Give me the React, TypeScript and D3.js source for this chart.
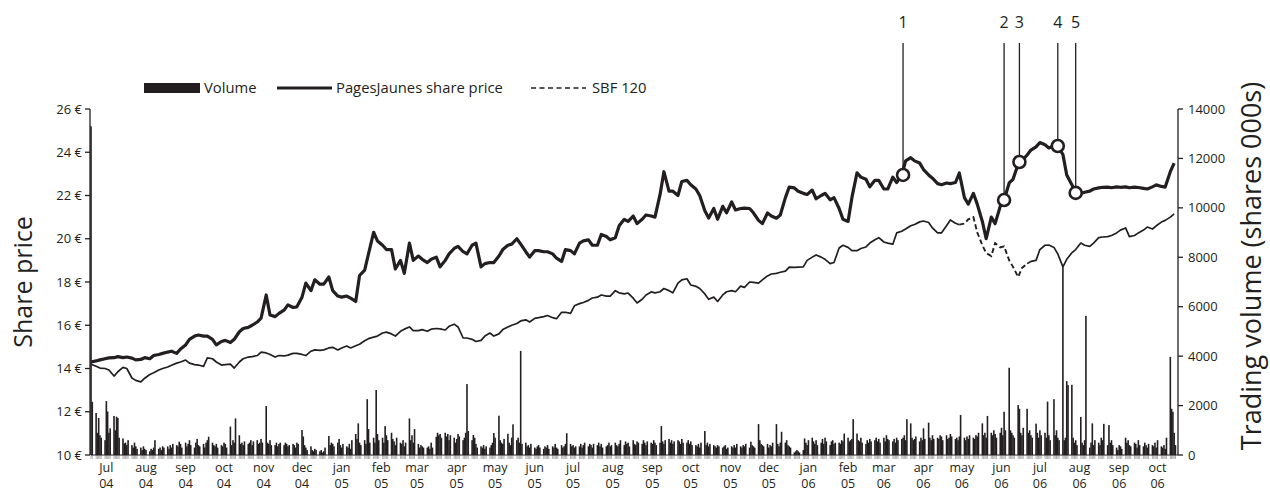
import React from 'react';
import * as d3 from 'd3';

// PagesJaunes close, sampled every Monday and Thursday from 1 Jul 2004 (euros)
const priceValues = [
  14.30, 14.35, 14.40, 14.45, 14.49, 14.50, 14.55, 14.50, 14.53, 14.48,
  14.40, 14.42, 14.50, 14.45, 14.60, 14.65, 14.70, 14.76, 14.80, 14.70,
  14.90, 15.09, 15.35, 15.50, 15.55, 15.50, 15.50, 15.35, 15.09, 15.25,
  15.30, 15.20, 15.35, 15.70, 15.85, 15.90, 16.00, 16.15, 16.33, 17.40,
  16.47, 16.40, 16.55, 16.70, 16.94, 16.82, 16.85, 17.30, 17.95, 17.60,
  18.10, 17.90, 17.90, 18.23, 17.60, 17.35, 17.30, 17.35, 17.25, 17.10,
  18.30, 18.55, 19.30, 20.30, 19.90, 19.70, 19.50, 19.50, 18.60, 19.00,
  18.40, 19.80, 19.00, 19.20, 19.05, 18.90, 19.05, 19.15, 18.70, 19.00,
  19.30, 19.55, 19.65, 19.40, 19.30, 19.70, 19.80, 18.70, 18.85, 18.90,
  18.90, 19.20, 19.50, 19.70, 19.75, 20.00, 19.75, 19.40, 19.15, 19.45,
  19.45, 19.40, 19.40, 19.30, 19.10, 18.95, 19.50, 19.45, 19.30, 19.80,
  19.90, 19.95, 19.70, 19.70, 20.20, 20.10, 19.95, 20.05, 20.60, 20.90,
  20.80, 21.05, 20.70, 20.90, 21.10, 21.05, 21.00, 22.05, 23.10, 22.20,
  22.20, 22.00, 22.65, 22.70, 22.50, 22.30, 22.00, 21.30, 20.96, 21.40,
  20.90, 21.50, 21.20, 21.70, 21.33, 21.40, 21.42, 21.40, 21.20, 20.85,
  20.70, 21.19, 21.05, 20.95, 21.10, 21.90, 22.39, 22.35, 22.20, 22.10,
  22.05, 22.25, 21.85, 22.00, 22.10, 21.80, 21.90, 21.40, 20.90, 20.80,
  21.90, 23.05, 22.85, 22.75, 22.40, 22.70, 22.70, 22.30, 22.30, 22.85,
  22.60, 22.95, 23.60, 23.75, 23.60, 23.50, 23.20, 22.95, 22.80, 22.55,
  22.50, 22.58, 22.55, 22.60, 23.04, 21.90, 21.60, 22.10, 21.60, 20.80,
  20.00, 21.00, 20.70, 21.50, 21.79, 22.58, 22.75, 23.45, 23.60, 23.87,
  24.10, 24.25, 24.45, 24.35, 24.20, 24.30, 24.25, 23.90, 22.95, 22.50,
  22.12, 22.10, 22.15, 22.20, 22.30, 22.35, 22.38, 22.39, 22.36, 22.40,
  22.38, 22.40, 22.36, 22.39, 22.37, 22.33, 22.30, 22.40, 22.49, 22.42,
  22.39, 23.10, 23.50,
];

// SBF 120, rebased to the share price scale, same sampling
const sbfValues = [
  14.20, 14.10, 14.02, 14.00, 13.93, 13.65, 13.85, 14.05, 14.00, 13.56,
  13.45, 13.38, 13.55, 13.72, 13.80, 13.93, 14.00, 14.07, 14.15, 14.25,
  14.30, 14.39, 14.25, 14.18, 14.16, 14.10, 14.49, 14.45, 14.30, 14.16,
  14.18, 14.20, 14.02, 14.30, 14.45, 14.53, 14.55, 14.60, 14.76, 14.72,
  14.65, 14.53, 14.60, 14.58, 14.62, 14.70, 14.70, 14.65, 14.60, 14.80,
  14.86, 14.84, 14.86, 14.95, 14.98, 14.86, 14.95, 15.04, 14.95, 15.05,
  15.12, 15.28, 15.38, 15.45, 15.50, 15.64, 15.68, 15.60, 15.50, 15.72,
  15.82, 15.92, 15.75, 15.75, 15.80, 15.72, 15.82, 15.85, 15.83, 15.78,
  15.95, 16.05, 15.92, 15.41, 15.41, 15.35, 15.25, 15.30, 15.50, 15.64,
  15.50, 15.60, 15.80, 15.92, 16.00, 16.08, 16.20, 16.25, 16.15, 16.32,
  16.35, 16.40, 16.45, 16.35, 16.30, 16.60, 16.60, 16.55, 16.90, 17.00,
  17.05, 17.15, 17.26, 17.30, 17.40, 17.35, 17.35, 17.60, 17.50, 17.45,
  17.49, 17.25, 17.03, 17.20, 17.40, 17.54, 17.50, 17.55, 17.70, 17.60,
  17.50, 17.95, 18.10, 18.15, 17.86, 17.80, 17.70, 17.45, 17.20, 17.30,
  17.10, 17.40, 17.55, 17.60, 17.55, 17.81, 17.75, 18.00, 17.98, 17.95,
  18.10, 18.28, 18.37, 18.40, 18.45, 18.50, 18.69, 18.68, 18.69, 18.70,
  19.00, 19.15, 19.25, 19.15, 19.05, 18.85, 18.90, 19.57, 19.70, 19.60,
  19.45, 19.45, 19.55, 19.62, 19.80, 19.95, 20.05, 19.85, 19.80, 19.75,
  20.27, 20.35, 20.45, 20.60, 20.66, 20.78, 20.82, 20.75, 20.50, 20.27,
  20.27, 20.60, 20.87, 20.72, 20.65, 20.70, 20.90, 21.00, 20.30, 19.70,
  19.34, 19.20, 19.80, 19.60, 19.65, 19.00, 18.70, 18.23, 18.65, 18.85,
  18.95, 19.00, 19.50, 19.70, 19.71, 19.60, 19.30, 18.70, 19.05, 19.35,
  19.50, 19.80, 19.70, 19.65, 19.80, 20.05, 20.08, 20.10, 20.15, 20.27,
  20.40, 20.50, 20.10, 20.15, 20.27, 20.40, 20.54, 20.45, 20.60, 20.77,
  20.85, 21.00, 21.15,
];

// daily trading volume, shares 000s, one value per weekday from 1 Jul 2004
const volumeValues = [
  13300, 2150,
  1700, 900, 1500, 800, 700, 600, 2180, 1760, 900, 1080,
  1580, 1000, 1550, 1500, 700, 670, 470, 500, 400, 600,
  400, 300, 500, 350, 250, 300, 200, 350, 250, 200,
  150, 250, 200, 300, 600, 250, 300, 200, 350, 300,
  350, 250, 400, 300, 450, 400, 350, 540, 450, 300,
  500, 350, 450, 600, 400, 300, 500, 650, 400, 350,
  450, 300, 500, 600, 740, 500, 400, 350, 450, 300,
  400, 350, 500, 450, 300, 1150, 400, 600, 500, 1480,
  800, 450, 500, 400, 550, 450, 500, 600, 400, 550,
  600, 450, 500, 650, 500, 1980, 500, 450, 600, 400,
  400, 500, 350, 450, 500, 400, 500, 450, 350, 400,
  450, 400, 300, 500, 450, 1010, 750, 400, 300, 200,
  350, 200, 150, 250, 200, 150, 200, 100, 150, 300,
  770, 400, 500, 450, 350, 500, 650, 400, 300, 450,
  350, 300, 450, 250, 600, 850, 650, 1280, 500, 400,
  600, 450, 2260, 1050, 500, 700, 500, 2630, 850, 600,
  700, 500, 1170, 800, 600, 900, 650, 550, 400, 700,
  500, 450, 600, 350, 500, 1480, 600, 800, 500, 1050,
  450, 300, 400, 350, 300, 300, 350, 250, 500, 300,
  740, 900, 800, 850, 700, 900, 750, 850, 600, 800,
  700, 500, 650, 850, 750, 600, 700, 900, 2870, 970,
  600, 810, 700, 450, 300, 350, 300, 400, 250, 350,
  300, 400, 500, 890, 700, 1590, 600, 500, 450, 650,
  860, 500, 400, 700, 1240, 600, 700, 500, 4210, 450,
  500, 350, 400, 300, 450, 300, 250, 350, 400, 300,
  250, 350, 300, 400, 250, 350, 300, 450, 300, 250,
  400, 300, 350, 450, 880, 450, 350, 400, 300, 350,
  350, 450, 300, 400, 500, 350, 450, 400, 300, 450,
  400, 500, 350, 450, 300, 350, 400, 500, 350, 400,
  500, 400, 350, 450, 600, 400, 550, 450, 500, 350,
  600, 450, 400, 550, 500, 450, 600, 500, 400, 550,
  500, 450, 600, 500, 400, 500, 1170, 550, 450, 600,
  650, 500, 600, 450, 550, 600, 550, 450, 650, 500,
  500, 600, 450, 550, 400, 400, 350, 450, 300, 500,
  970, 400, 500, 350, 450, 400, 350, 300, 400, 350,
  300, 350, 400, 250, 300, 350, 300, 400, 300, 450,
  350, 300, 400, 350, 450, 300, 540, 400, 350, 300,
  1250, 600, 450, 400, 350, 450, 300, 400, 350, 500,
  1250, 450, 350, 500, 940, 500, 600, 400, 350, 300,
  100, 150, 200, 150, 100, 200, 670, 500, 400, 600,
  700, 550, 450, 600, 400, 500, 650, 450, 700, 550,
  400, 550, 600, 450, 500, 500, 450, 600, 550, 870,
  700, 550, 600, 650, 1450, 870, 600, 550, 700, 500,
  450, 600, 500, 650, 550, 600, 700, 550, 650, 500,
  700, 550, 800, 650, 600, 550, 650, 500, 700, 600,
  650, 700, 800, 600, 1450, 1280, 700, 600, 650, 750,
  550, 700, 600, 1080, 650, 1310, 700, 600, 800, 650,
  700, 650, 800, 750, 600, 800, 650, 700, 850, 750,
  650, 700, 600, 750, 1620, 700, 600, 750, 650, 800,
  700, 650, 800, 750, 900, 1280, 800, 900, 700, 1580,
  900, 800, 1000, 850, 700, 900, 1100, 800, 1750, 1000,
  3530, 1000, 900, 800, 700, 2020, 1870, 900, 800, 1100,
  1870, 900, 1000, 800, 700, 1270, 900, 700, 1000, 800,
  900, 700, 2160, 800, 600, 2260, 800, 1000, 700, 600,
  7600, 600, 700, 2990, 2830, 2840, 700, 500, 600, 400,
  1540, 500, 400, 600, 5630, 300, 500, 1280, 400, 600,
  500, 400, 700, 600, 1260, 400, 1210, 500, 600, 400,
  300, 200, 400, 350, 250, 700, 500, 600, 400, 350,
  500, 450, 300, 600, 400, 350, 500, 400, 300, 450,
  400, 350, 500, 300, 600, 350, 300, 400, 250, 700,
  3970, 1870, 1750, 900, 400,
];

const monthNames = ['Jul', 'aug', 'sep', 'oct', 'nov', 'dec', 'jan', 'feb', 'mar', 'apr', 'may', 'jun',
  'jul', 'aug', 'sep', 'oct', 'nov', 'dec', 'jan', 'feb', 'mar', 'apr', 'may', 'jun', 'jul', 'aug', 'sep', 'oct'];
const monthYears = ['04', '04', '04', '04', '04', '04', '05', '05', '05', '05', '05', '05',
  '05', '05', '05', '05', '05', '05', '06', '05', '06', '06', '06', '06', '06', '06', '06', '06'];

const priceTicks = [10, 12, 14, 16, 18, 20, 22, 24, 26];
const volumeTicks = [0, 2000, 4000, 6000, 8000, 10000, 12000, 14000];

const eventLabels = ['1', '2', '3', '4', '5'];
const eventDates = ['2006-03-28', '2006-06-15', '2006-06-27', '2006-07-27', '2006-08-10'];
const eventPrices = [22.95, 21.79, 23.55, 24.29, 22.12];

// stretch where the index line is printed broken
const sbfDashedFrom = '2006-05-11';
const sbfDashedTo = '2006-07-03';

const INK = '#231f20';
const FONT = "'Open Sans', 'Noto Sans', sans-serif";

type Pt = { date: Date; value: number };

export default function App() {
  const width = 1270, height = 496;
  const left = 91, right = 1178, top = 109, bottom = 455;

  const start = new Date(2004, 6, 1);
  const x = d3.scaleTime().domain([start, new Date(2006, 9, 29)]).range([left, right]);
  const yPrice = d3.scaleLinear().domain([10, 26]).range([bottom, top]);
  const yVol = d3.scaleLinear().domain([0, 14000]).range([bottom, top]);

  const tradingDays = d3.timeDay.range(start, new Date(2006, 9, 28)).filter(d => d.getDay() > 0 && d.getDay() < 6);
  const sampleDays = d3.timeDay.range(start, new Date(2006, 9, 27)).filter(d => d.getDay() === 1 || d.getDay() === 4);

  const price: Pt[] = sampleDays.map((d, i) => ({ date: d, value: priceValues[i] })).filter(d => d.value != null);
  const sbf: Pt[] = sampleDays.map((d, i) => ({ date: d, value: sbfValues[i] })).filter(d => d.value != null);
  const volume: Pt[] = tradingDays.map((d, i) => ({ date: d, value: volumeValues[i] })).filter(d => d.value != null);

  const parseDate = d3.timeParse('%Y-%m-%d');
  const dashFrom = parseDate(sbfDashedFrom) as Date;
  const dashTo = parseDate(sbfDashedTo) as Date;

  const lineGen = d3.line<Pt>()
    .x(d => x(d.date))
    .y(d => yPrice(d.value));

  // solid outside the broken stretch, dashed inside it
  const sbfSolid = lineGen.defined(d => d.date <= dashFrom || d.date >= dashTo)(sbf) || '';
  const sbfDashed = d3.line<Pt>().x(d => x(d.date)).y(d => yPrice(d.value))(
    sbf.filter(d => d.date >= dashFrom && d.date <= dashTo)) || '';
  const pricePath = d3.line<Pt>().x(d => x(d.date)).y(d => yPrice(d.value))(price) || '';

  const events = eventLabels.map((label, i) => ({
    label,
    date: parseDate(eventDates[i]) as Date,
    value: eventPrices[i],
  }));

  const months = monthNames.map((m, i) => ({
    name: m,
    year: monthYears[i],
    date: d3.timeMonth.offset(new Date(2004, 6, 13), i),
  }));

  const dayTicks = tradingDays.map(d => `M${x(d)},${bottom}V${bottom + 4}`).join('');
  const r = 6;

  return (
    <svg width={width} height={height} style={{ position: 'absolute', left: 0, top: 0, background: '#fff' }}
      fontFamily={FONT} fill={INK}>
      {/* legend */}
      <rect x={144} y={83} width={56} height={10} fill={INK} />
      <text x={204} y={93} fontSize={14.8}>Volume</text>
      <line x1={277} x2={332} y1={88} y2={88} stroke={INK} strokeWidth={3} />
      <text x={336} y={93} fontSize={14.8}>PagesJaunes share price</text>
      <line x1={531} x2={586} y1={88} y2={88} stroke={INK} strokeWidth={1.6} strokeDasharray="5,3.5" />
      <text x={592} y={93} fontSize={14.8}>SBF 120</text>

      {/* volume bars */}
      <g>
        {volume.map((d, i) => (
          <rect key={i} x={x(d.date) - 0.8} width={1.6} y={yVol(d.value)} height={bottom - yVol(d.value)} fill={INK} />
        ))}
      </g>

      {/* lines */}
      <path d={sbfSolid} fill="none" stroke={INK} strokeWidth={1.7} strokeLinejoin="round" />
      <path d={sbfDashed} fill="none" stroke={INK} strokeWidth={1.9} strokeDasharray="5,3" />
      <path d={pricePath} fill="none" stroke={INK} strokeWidth={3.2} strokeLinejoin="round" />

      {/* x axis */}
      <line x1={left} x2={right} y1={bottom} y2={bottom} stroke={INK} strokeWidth={1} />
      <path d={dayTicks} stroke={INK} strokeWidth={0.5} opacity={0.7} />
      {months.map((m, i) => (
        <g key={i}>
          <text x={x(m.date)} y={472} textAnchor="middle" fontSize={12.5}>{m.name}</text>
          <text x={x(m.date)} y={488} textAnchor="middle" fontSize={12.5}>{m.year}</text>
        </g>
      ))}

      {/* left axis */}
      <line x1={left - 1} x2={left - 1} y1={top} y2={bottom} stroke={INK} strokeWidth={1.3} />
      {priceTicks.map(t => (
        <g key={t}>
          <line x1={left - 6} x2={left - 1} y1={yPrice(t)} y2={yPrice(t)} stroke={INK} strokeWidth={1.3} />
          <text x={left - 9} y={yPrice(t) + 4.5} textAnchor="end" fontSize={13}>{`${t} €`}</text>
        </g>
      ))}

      {/* right axis */}
      <line x1={right} x2={right} y1={top} y2={bottom} stroke={INK} strokeWidth={1.3} />
      {volumeTicks.map(t => (
        <g key={t}>
          <line x1={right} x2={right + 5} y1={yVol(t)} y2={yVol(t)} stroke={INK} strokeWidth={1.3} />
          <text x={right + 10} y={yVol(t) + 4.5} fontSize={13}>{t}</text>
        </g>
      ))}

      {/* axis titles */}
      <text transform={`translate(32,${(top + bottom) / 2}) rotate(-90)`} textAnchor="middle" fontSize={25}>Share price</text>
      <text transform={`translate(1261,266) rotate(-90)`} textAnchor="middle" fontSize={27}>Trading volume (shares 000s)</text>

      {/* events */}
      {events.map(e => {
        const ex = x(e.date);
        const ey = yPrice(e.value);
        return (
          <g key={e.label}>
            <line x1={ex} x2={ex} y1={43} y2={ey - r} stroke={INK} strokeWidth={1.3} />
            <circle cx={ex} cy={ey} r={r} fill="#fff" stroke={INK} strokeWidth={2.6} />
            <text x={ex} y={28} textAnchor="middle" fontSize={16}>{e.label}</text>
          </g>
        );
      })}
    </svg>
  );
}
